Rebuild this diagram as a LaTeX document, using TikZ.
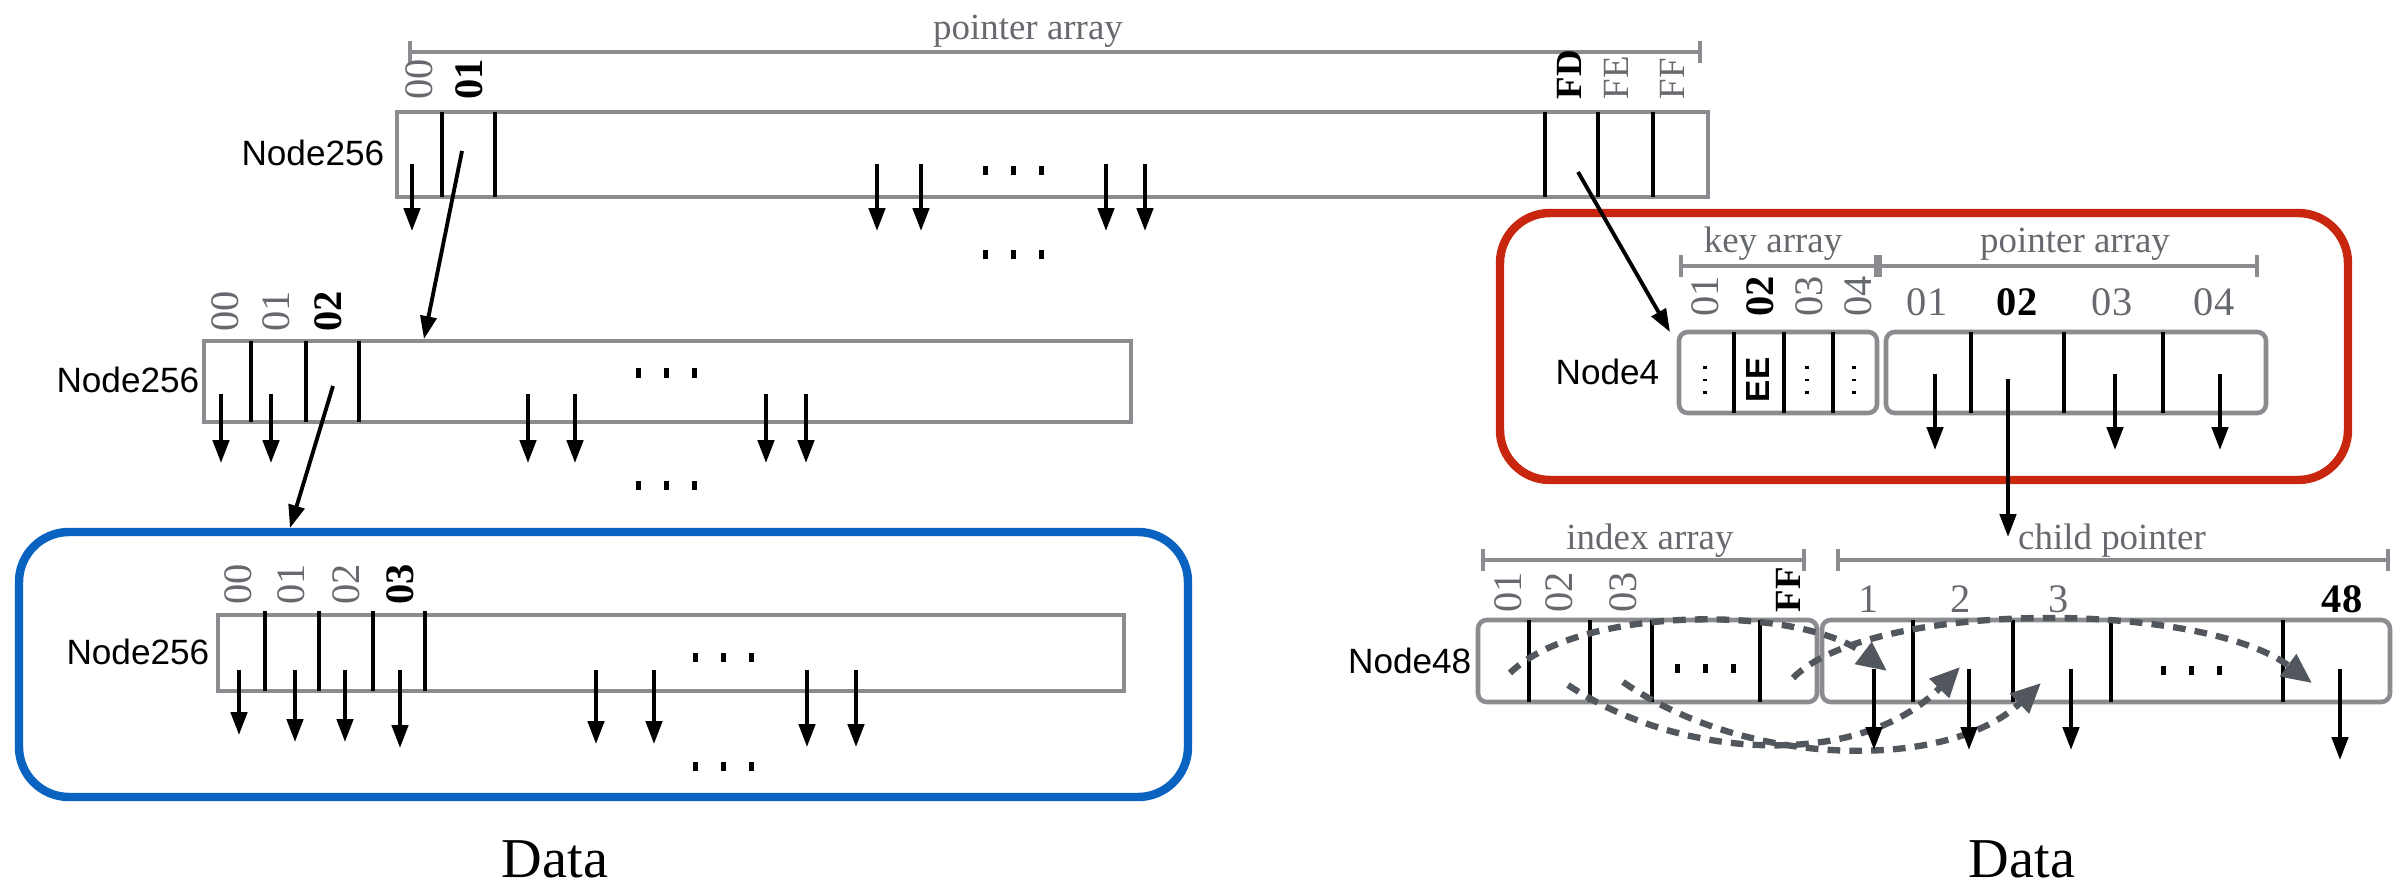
\documentclass[tikz,border=0pt]{standalone}
\usepackage{fontspec}
\setmainfont{Liberation Serif}
\setsansfont{Liberation Sans}
\usetikzlibrary{arrows.meta,fit}

\definecolor{boxgray}{HTML}{8A8C8F}
\definecolor{labgray}{HTML}{666A6F}
\definecolor{jumpgray}{HTML}{52575D}
\definecolor{hired}{HTML}{C8260F}
\definecolor{hiblue}{HTML}{0B63C1}

\newcommand\labfont{\fontsize{10.5}{12}\selectfont}
\newcommand\digfont{\fontsize{11.5}{13}\selectfont}

\tikzset{
  cellbox/.style={draw=boxgray, line width=1.3pt, inner sep=0pt},
  roundbox/.style={cellbox, rounded corners=2.5pt},
  divider/.style={line width=1.1pt},
  ptr/.style={line width=1.1pt, -{Triangle[length=6.5pt,width=4.6pt]}},
  jump/.style={draw=jumpgray, line width=1.8pt, dash pattern=on 3.6pt off 2.6pt,
    -{Triangle[length=8.5pt,width=7.5pt,fill=jumpgray]}},
  brace/.style={draw=boxgray, line width=1.2pt, {Bar[width=6pt]}-{Bar[width=6pt]}},
  lab/.style={text=labgray, font=\labfont, inner sep=0pt},
  dlab/.style={text=labgray, font=\digfont, inner sep=0pt},
  blab/.style={text=black, font=\digfont\bfseries, inner sep=0pt},
  rot/.style={rotate=90, anchor=west},
  nodename/.style={font=\sffamily\fontsize{10}{12}\selectfont, anchor=east, inner sep=0pt},
  hilite/.style={line width=2.4pt, rounded corners=0.5cm},
  pics/hdots/.style={code={
    \foreach \i in {-1,0,1} \fill (\i*28-2.5,-4.5) rectangle (\i*28+2.5,4.5);}}
}

\begin{document}
\begin{tikzpicture}[x=0.01cm,y=-0.01cm]
\useasboundingbox (0,0) rectangle (2399,888);

% highlight frames
\draw[hilite,hiblue] (19,532) rectangle (1188,797);
\draw[hilite,hired] (1500,213) rectangle (2348,480);

% root Node256
\node[lab, anchor=base] (rootpa) at (1028,40) {pointer array};
\draw[brace] (408,52) -- (1702,52);
\node[cellbox, fit={(397,112) (1708,197)}] (root) {};
\node[nodename] (rootname) at (385,153) {Node256};
\node[dlab,rot] (r00) at (419,100) {00};
\node[blab,rot] (r01) at (469,100) {01};
\node[blab,rot,font=\labfont\bfseries] (rFD) at (1569,100) {FD};
\node[lab,rot] (rFE) at (1616,100) {FE};
\node[lab,rot] (rFF) at (1672,100) {FF};
\foreach \x in {442,495,1545,1598,1653} \draw[divider] (\x,112) -- (\x,197);
\foreach \x in {412,877,921,1106,1145} \draw[ptr] (\x,164) -- (\x,231);
\pic at (1013,171) {hdots};
\pic at (1013,255) {hdots};

% second Node256
\node[cellbox, fit={(204,341) (1131,422)}] (mid) {};
\node[nodename] (midname) at (200,380) {Node256};
\node[dlab,rot] (m00) at (225,332) {00};
\node[dlab,rot] (m01) at (276,332) {01};
\node[blab,rot] (m02) at (328,332) {02};
\foreach \x in {251,306,359} \draw[divider] (\x,341) -- (\x,422);
\foreach \x in {221,271,528,575,766,806} \draw[ptr] (\x,394) -- (\x,463);
\pic at (666,373) {hdots};
\pic at (666,485) {hdots};

% third Node256
\node[cellbox, fit={(218,615) (1124,691)}] (low) {};
\node[nodename] (lowname) at (210,652) {Node256};
\node[dlab,rot] (l00) at (238,605) {00};
\node[dlab,rot] (l01) at (291,605) {01};
\node[dlab,rot] (l02) at (346,605) {02};
\node[blab,rot] (l03) at (400,605) {03};
\foreach \x in {265,319,373,425} \draw[divider] (\x,611) -- (\x,691);
\foreach \x/\y in {239/735,295/742,345/742,400/748,596/744,654/744,807/747,856/747}
  \draw[ptr] (\x,670) -- (\x,\y);
\pic at (723,657) {hdots};
\pic at (723,766) {hdots};

% links between levels
\coordinate (r01p) at (462,151);
\coordinate (m02p) at (333,386);
\coordinate (rFDp) at (1578,172);
\coordinate (midin) at (424,339);
\coordinate (lowin) at (290,528);
\draw[ptr] (r01p) -- (midin);
\draw[ptr] (m02p) -- (lowin);
\draw[ptr] (rFDp) -- (1670,332);

% Node4
\node[lab, anchor=base] (keylab) at (1773,253) {key array};
\node[lab, anchor=base] (n4pa) at (2075,253) {pointer array};
\draw[brace] (1679,266) -- (1878,266);
\draw[brace] (1878,266) -- (2259,266);
\node[dlab,rot] (k01) at (1705,317) {01};
\node[blab,rot] (k02) at (1760,317) {02};
\node[dlab,rot] (k03) at (1809,317) {03};
\node[dlab,rot] (k04) at (1858,317) {04};
\node[dlab, anchor=base] (p01) at (1927,316) {01};
\node[blab, anchor=base] (p02) at (2017,316) {02};
\node[dlab, anchor=base] (p03) at (2112,316) {03};
\node[dlab, anchor=base] (p04) at (2214,316) {04};
\node[roundbox, fit={(1679,332) (1877,413)}] (keys) {};
\node[roundbox, fit={(1886,332) (2266,413)}] (ptrs) {};
\node[nodename] (n4name) at (1660,372) {Node4};
\foreach \x in {1734,1784,1833,1971,2064,2163} \draw[divider] (\x,332) -- (\x,413);
\foreach \x in {1705,1807,1854} \pic[rotate=90, scale=0.45] at (\x,380) {hdots};
\node[font=\sffamily\bfseries\fontsize{9.5}{10}\selectfont, rotate=90, inner sep=0pt] (ee) at (1758,380) {EE};
\foreach \x in {1935,2115,2220} \draw[ptr] (\x,374) -- (\x,450);
\coordinate (p02p) at (2008,379);
\draw[ptr] (p02p) -- (2008,537);

% Node48
\node[lab, anchor=base] (idxlab) at (1650,549) {index array};
\node[lab, anchor=base] (chlab) at (2112,549) {child pointer};
\draw[brace] (1481,560) -- (1806,560);
\draw[brace] (1836,560) -- (2390,560);
\node[dlab,rot] (i01) at (1508,613) {01};
\node[dlab,rot] (i02) at (1559,613) {02};
\node[dlab,rot] (i03) at (1623,613) {03};
\node[blab,rot,font=\labfont\bfseries] (iFF) at (1788,613) {FF};
\node[dlab, anchor=base] (c1) at (1869,612) {1};
\node[dlab, anchor=base] (c2) at (1961,612) {2};
\node[dlab, anchor=base] (c3) at (2059,612) {3};
\node[blab, anchor=base] (c48) at (2342,612) {48};
\node[roundbox, fit={(1478,620) (1817,702)}] (idx) {};
\node[roundbox, fit={(1822,620) (2390,702)}] (child) {};
\node[nodename] (n48name) at (1472,661) {Node48};
\foreach \x in {1529,1590,1652,1760,1913,2013,2111,2283} \draw[divider] (\x,620) -- (\x,702);
\pic at (1705,668) {hdots};
\pic at (2191,670) {hdots};

% index -> child slots
\draw[jump] (1510,673) .. controls (1580,605) and (1800,605) .. (1887,671);
\draw[jump] (1793,678) .. controls (1870,600) and (2200,600) .. (2312,683);
\draw[jump] (1568,685) .. controls (1680,760) and (1860,770) .. (1960,667);
\draw[jump] (1623,682) .. controls (1750,770) and (1950,770) .. (2041,683);

\foreach \x/\y in {1874/750,1969/750,2071/750,2340/760} \draw[ptr] (\x,669) -- (\x,\y);

% captions
\node[font=\fontsize{16}{19}\selectfont, anchor=base] (data1) at (555,877) {Data};
\node[font=\fontsize{16}{19}\selectfont, anchor=base] (data2) at (2022,877) {Data};
\end{tikzpicture}
\end{document}
